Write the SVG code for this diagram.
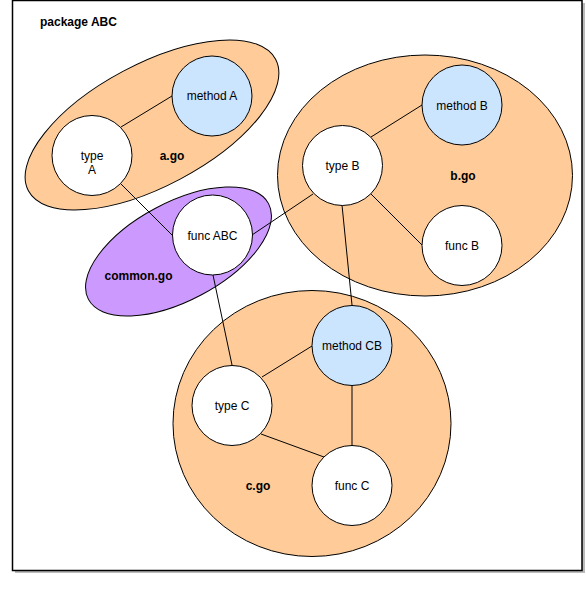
<svg xmlns="http://www.w3.org/2000/svg" width="586" height="607" viewBox="0 0 586 607">
<style>
.frame{fill:#fff;stroke:#000;stroke-width:1.5}
.shadow{fill:#bbb}
.file{fill:#FFCC99;stroke:#000;stroke-width:1}
.common{fill:#CC99FF;stroke:#000;stroke-width:1}
.node{fill:#fff;stroke:#000;stroke-width:1}
.method{fill:#CCE5FF;stroke:#000;stroke-width:1}
.edge{stroke:#000;stroke-width:1;fill:none}
text{font-family:"Liberation Sans",Arial,Helvetica,sans-serif;font-size:12px;fill:#000;text-anchor:middle}
.b{font-weight:bold}
</style>
<rect class="shadow" x="15" y="3" width="570" height="570"/>
<rect class="frame" x="12.5" y="0.5" width="569.5" height="570"/>
<text class="b" x="40" y="26" style="text-anchor:start">package ABC</text>
<g id="file-a">
<ellipse class="file" cx="152" cy="125" rx="140" ry="61" transform="rotate(-28 152 125)"/>
<text class="b" x="172" y="160">a.go</text>
</g>
<g id="file-b">
<ellipse class="file" cx="425" cy="175.5" rx="147.5" ry="120.5"/>
<text class="b" x="463" y="180">b.go</text>
</g>
<g id="file-common">
<ellipse class="common" cx="178.5" cy="251.5" rx="102" ry="49" transform="rotate(-28 178.5 251.5)"/>
<text class="b" x="138.5" y="280">common.go</text>
</g>
<g id="file-c">
<ellipse class="file" cx="312" cy="423.5" rx="139" ry="133"/>
<text class="b" x="258" y="490">c.go</text>
</g>
<g id="connectors">
<line class="edge" x1="121" y1="127" x2="172" y2="96"/>
<line class="edge" x1="121" y1="184" x2="172" y2="235"/>
<line class="edge" x1="252" y1="235" x2="313" y2="194"/>
<line class="edge" x1="213" y1="275" x2="232" y2="365"/>
<line class="edge" x1="371" y1="137" x2="422" y2="105"/>
<line class="edge" x1="371" y1="194" x2="422" y2="245"/>
<line class="edge" x1="342" y1="205" x2="352" y2="305"/>
<line class="edge" x1="262" y1="377" x2="312" y2="346"/>
<line class="edge" x1="261" y1="434" x2="324" y2="457"/>
<line class="edge" x1="352" y1="385" x2="352" y2="445"/>
</g>
<g id="method-a"><circle class="method" cx="212" cy="96" r="40"/><text x="212" y="100">method A</text></g>
<g id="type-a"><circle class="node" cx="92" cy="155.5" r="40"/><text x="92" y="160">type</text><text x="92" y="174">A</text></g>
<g id="func-abc"><circle class="node" cx="212.5" cy="235" r="40"/><text x="212.5" y="240">func ABC</text></g>
<g id="type-b"><circle class="node" cx="342.5" cy="165.5" r="40"/><text x="342.5" y="170">type B</text></g>
<g id="method-b"><circle class="method" cx="462" cy="105" r="40"/><text x="462" y="110">method B</text></g>
<g id="func-b"><circle class="node" cx="462" cy="245.5" r="40"/><text x="462" y="250">func B</text></g>
<g id="method-cb"><circle class="method" cx="352" cy="345.5" r="40"/><text x="352" y="350">method CB</text></g>
<g id="type-c"><circle class="node" cx="232" cy="405.5" r="40"/><text x="232" y="410">type C</text></g>
<g id="func-c"><circle class="node" cx="352" cy="485.5" r="40"/><text x="352" y="490">func C</text></g>
</svg>
